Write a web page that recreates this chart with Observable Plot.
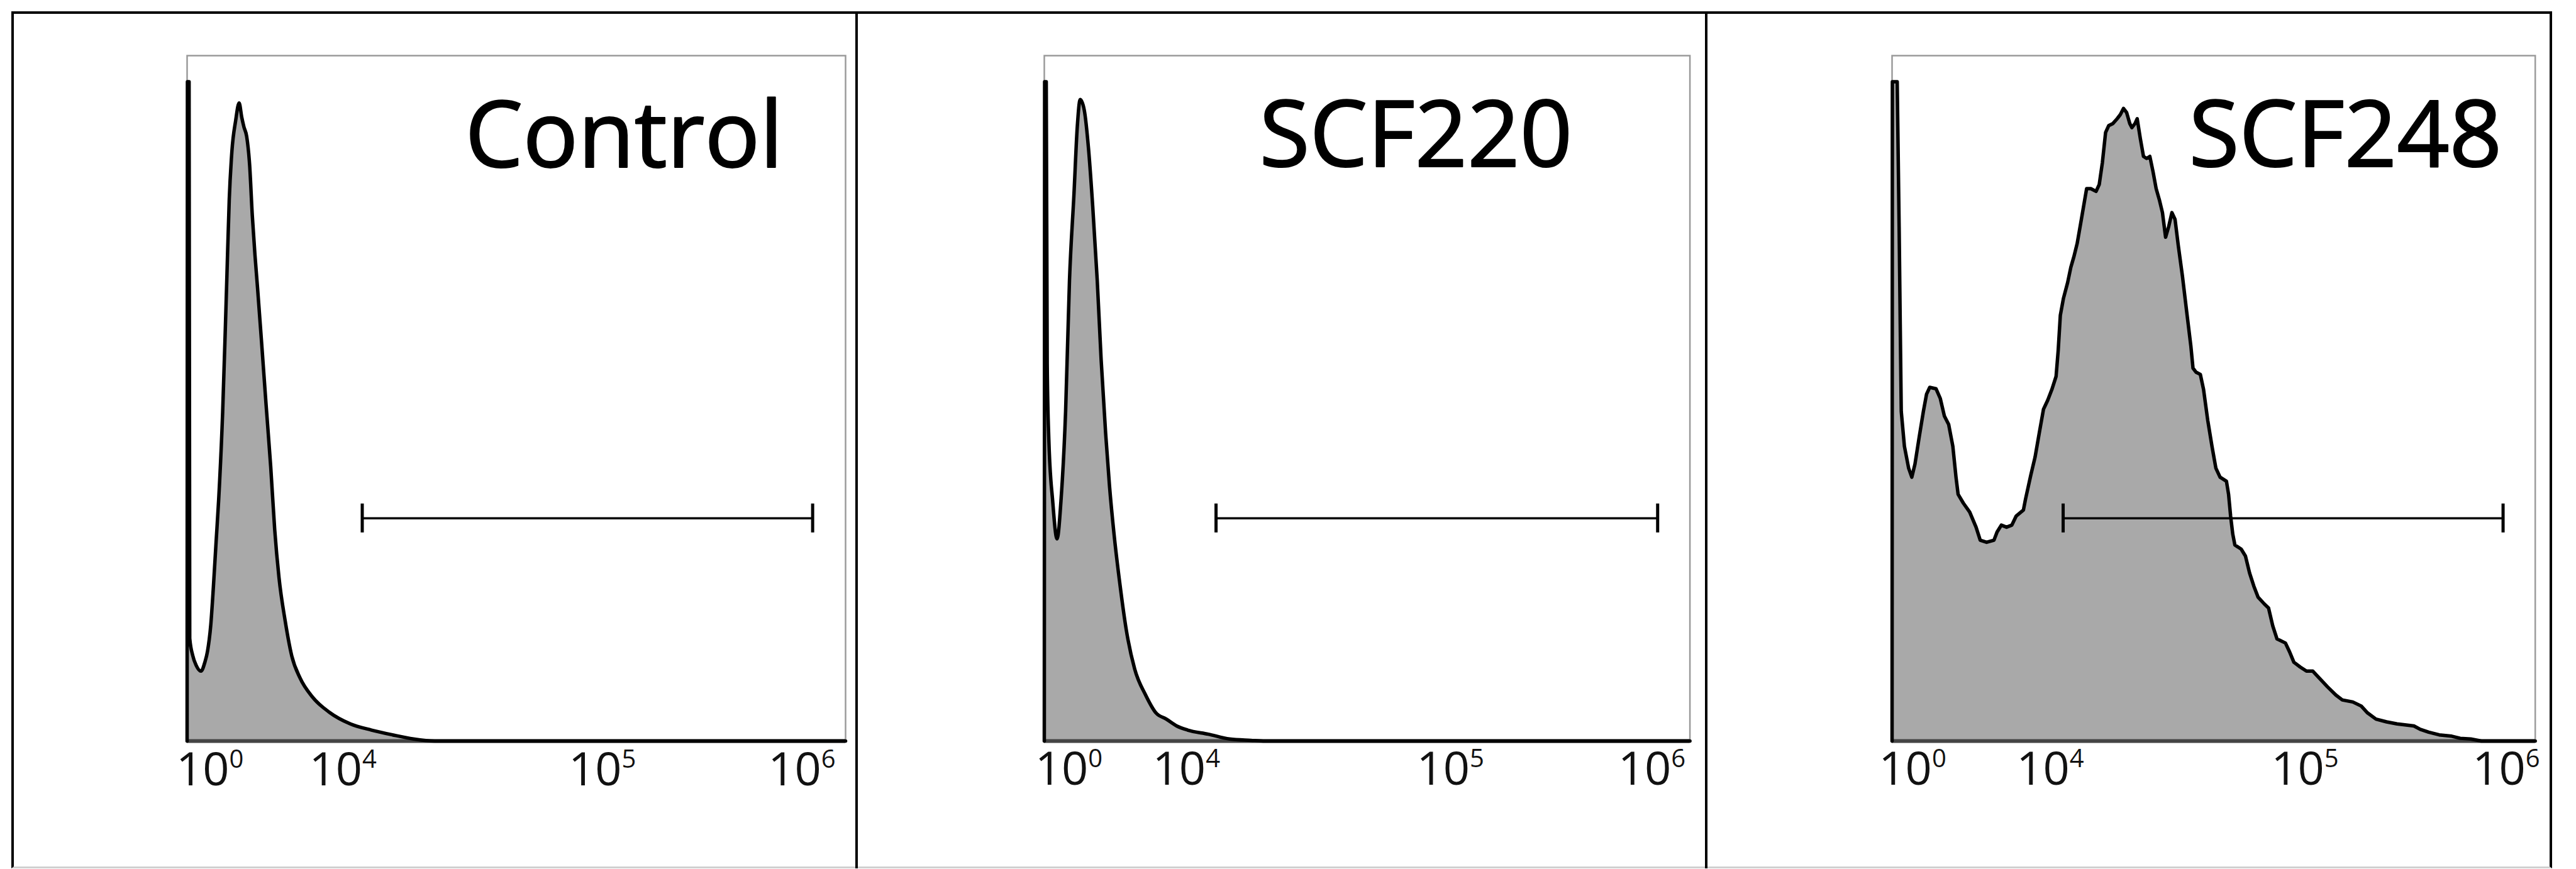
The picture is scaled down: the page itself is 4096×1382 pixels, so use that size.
<!DOCTYPE html>
<html>
<head>
<meta charset="utf-8">
<script src="https://cdn.jsdelivr.net/npm/d3@7"></script>
<script src="https://cdn.jsdelivr.net/npm/@observablehq/plot@0.6"></script>
<style>
  html, body { margin: 0; padding: 0; background: #fff; }
  #root { position: relative; width: 4096px; height: 1382px; overflow: hidden; background: #fff; font-family: "Open Sans", sans-serif; }
  .outer { position: absolute; left: 18px; top: 18px; width: 4040px; height: 1363px; box-sizing: border-box;
           border-left: 4px solid #000; border-top: 4px solid #000; border-right: 4px solid #000; border-bottom: 3px solid #d0d0d0; }
  .divider { position: absolute; top: 18px; width: 4px; height: 1363px; background: #000; }
  .panel { position: absolute; }
</style>
</head>
<body>
<div id="root"></div>
<script>
// ---------------- data (channel 0–1000 across the plot, % of max count) ----------------
const samples = ["Control", "SCF220", "SCF248"];

const controlChannel = [0, 0.5, 3, 4, 8.5, 14, 21, 27, 31, 36, 40, 44, 48, 54, 58, 60.5, 64, 68, 73.7, 79, 83, 86.3, 90.5, 95, 99, 103, 107, 114, 120, 127, 133, 139.5, 149, 159, 171.5, 190.6, 216, 248, 280, 312, 344, 376, 1000];
const controlCount   = [0, 96.2, 96.2, 15, 12.5, 11, 10.2, 11.5, 13.1, 17, 22.6, 29, 35.3, 48, 60, 68, 79, 86, 90.5, 93.1, 91, 89.6, 88.2, 84, 76.7, 71, 66.1, 57, 49, 40, 30.9, 23.9, 17.5, 12.4, 9.2, 6.4, 4.2, 2.5, 1.6, 0.9, 0.3, 0, 0];

const scf220Channel = [0, 0.5, 3, 4.5, 7, 13, 19.7, 26, 33, 39, 46, 51, 55.6, 62, 68.6, 75, 82, 88, 95, 101, 108, 117.5, 127, 140, 157, 173, 189, 205, 222, 254, 287, 320, 342, 1000];
const scf220Count   = [0, 96.2, 96.2, 55, 44, 35, 29.5, 35.3, 48.1, 67.2, 79.9, 89.5, 93.6, 92, 86.3, 78, 67.2, 55.7, 44.9, 37.2, 30.2, 22.6, 16.2, 10.5, 6.7, 4.1, 3.2, 2.2, 1.6, 1.0, 0.3, 0.1, 0, 0];

const scf248Channel = [0, 0.5, 8, 11, 12.7, 14.3, 19.2, 25.8, 30.7, 35.6, 42.1, 48.7, 53.6, 58.5, 68.3, 74.9, 81.4, 88.0, 94.5, 99.4, 102.7, 110.9, 120.7, 130.6, 137.1, 147.0, 158.4, 163.3, 169.9, 178.0, 186.2, 192.8, 204.2, 207.5, 215.7, 222.3, 228.8, 235.4, 241.9, 248.5, 255.0, 258.3, 261.6, 266.5, 273.0, 277.9, 282.8, 287.8, 294.3, 302.5, 309.0, 317.2, 322.1, 327.0, 332.0, 336.9, 343.4, 350.0, 354.9, 359.8, 364.7, 369.6, 372.9, 377.8, 381.1, 386.0, 390.9, 395.8, 400.8, 405.7, 410.6, 415.5, 420.4, 425.3, 430.2, 435.1, 440.0, 445.0, 451.5, 458.0, 464.6, 467.9, 472.8, 479.3, 484.3, 490.8, 497.4, 503.5, 510.0, 519.9, 523.2, 526.4, 529.7, 533.0, 542.8, 549.4, 555.9, 562.5, 569.0, 578.8, 585.4, 591.9, 598.5, 611.6, 618.1, 624.7, 634.5, 644.3, 654.2, 664.0, 677.1, 690.2, 700.0, 716.4, 729.5, 739.3, 752.4, 768.8, 785.2, 811.4, 821.2, 834.3, 850.7, 870.3, 883.4, 899.8, 916.2, 1000];
const scf248Count   = [0, 96.2, 96.2, 75, 60.8, 48.1, 43.0, 39.8, 38.5, 40.4, 44.3, 48.1, 50.6, 51.6, 51.4, 50.0, 47.4, 46.2, 43.0, 38.5, 36.0, 34.7, 33.4, 31.2, 29.3, 29.0, 29.3, 30.5, 31.5, 31.2, 31.5, 32.8, 33.7, 35.3, 38.8, 41.4, 44.9, 48.4, 49.7, 51.3, 53.2, 57.0, 62.1, 64.6, 66.9, 69.1, 70.7, 72.6, 76.1, 80.6, 80.6, 80.2, 81.2, 84.4, 88.8, 89.8, 90.1, 90.8, 91.4, 92.3, 91.7, 90.1, 89.5, 90.1, 90.8, 87.9, 85.3, 85.0, 85.3, 83.1, 80.6, 79.0, 77.1, 73.5, 75.1, 77.1, 76.1, 72.3, 67.8, 62.7, 57.6, 54.4, 53.8, 53.5, 51.3, 46.8, 43.0, 39.8, 38.5, 37.9, 36.0, 32.8, 30.2, 28.6, 28.0, 27.0, 24.5, 22.6, 21.0, 20.0, 19.4, 16.8, 14.9, 14.3, 13.0, 11.5, 10.8, 10.2, 10.2, 9.2, 7.9, 6.7, 6.0, 5.7, 5.1, 4.1, 3.2, 2.8, 2.5, 2.2, 1.7, 1.3, 0.9, 0.7, 0.4, 0.3, 0, 0];

// axis tick labels ("10" with a superscript exponent) and their channel positions per panel
const tickBase = ["10", "10", "10", "10"];
const tickExp  = ["0", "4", "5", "6"];
const controlTickPos = [64, 266, 660, 963];
const scf220TickPos  = [68, 250, 659, 971];
const scf248TickPos  = [62, 276, 672, 985];

// gate marker (channel range and % level)
const gateRange = [266, 950];
const gateLevel = 32.5;

// ---------------- layout (pixels) ----------------
const panels = [
  {title: samples[0], xs: controlChannel, ys: controlCount, ticks: controlTickPos, curve: "monotone-x", boxLeft: 296.5, boxWidth: 1047, titleDx: 442},
  {title: samples[1], xs: scf220Channel,  ys: scf220Count,  ticks: scf220TickPos,  curve: "monotone-x", boxLeft: 1659.7, boxWidth: 1026.6, titleDx: 342},
  {title: samples[2], xs: scf248Channel,  ys: scf248Count,  ticks: scf248TickPos,  curve: "linear",     boxLeft: 3008.4, boxWidth: 1022.7, titleDx: 472}
];
const boxTop = 88, baseline = 1178;
const mL = 30, mR = 20, mT = 20, mB = 120;

const root = document.getElementById("root");
const outer = document.createElement("div");
outer.className = "outer";
root.appendChild(outer);
for (const x of [1360, 2711]) {
  const d = document.createElement("div");
  d.className = "divider";
  d.style.left = x + "px";
  root.appendChild(d);
}

for (const p of panels) {
  const data = p.xs.map((x, i) => ({x, y: p.ys[i]}));
  const tickData = p.ticks.map((t, i) => ({t, base: tickBase[i], exp: tickExp[i]}));
  const chart = Plot.plot({
    width: p.boxWidth + mL + mR,
    height: (baseline - boxTop) + mT + mB,
    marginLeft: mL, marginRight: mR, marginTop: mT, marginBottom: mB,
    x: {domain: [0, 1000], axis: null},
    y: {domain: [0, 100], axis: null},
    style: {background: "transparent", overflow: "visible", fontFamily: "'Open Sans', sans-serif"},
    marks: [
      Plot.areaY(data, {x: "x", y: "y", fill: "#a9a9a9", curve: p.curve}),
      Plot.frame({stroke: "#9a9a9a", strokeWidth: 2.5}),
      Plot.ruleY([0], {stroke: "#444", strokeWidth: 6}),
      Plot.lineY(data, {x: "x", y: "y", stroke: "#000", strokeWidth: 5.5, curve: p.curve, strokeLinejoin: "round"}),
      Plot.ruleY([gateLevel], {x1: gateRange[0], x2: gateRange[1], stroke: "#000", strokeWidth: 3.5}),
      Plot.ruleX(gateRange, {y1: gateLevel, y2: gateLevel, insetTop: -23, insetBottom: -23, stroke: "#000", strokeWidth: 5}),
      Plot.text(tickData, {x: "t", y: 0, text: "base", textAnchor: "end", lineAnchor: "bottom", dy: 70, fontSize: 74, fill: "#111"}),
      Plot.text(tickData, {x: "t", y: 0, text: "exp", textAnchor: "start", lineAnchor: "bottom", dy: 42, fontSize: 40, fill: "#111"}),
      Plot.text([p.title], {frameAnchor: "top-left", text: d => d, textAnchor: "start", lineAnchor: "bottom", dx: p.titleDx, dy: 177, fontSize: 146, fill: "#000", stroke: "#000", strokeWidth: 2.2})
    ]
  });
  const wrap = document.createElement("div");
  wrap.className = "panel";
  wrap.style.left = (p.boxLeft - mL) + "px";
  wrap.style.top = (boxTop - mT) + "px";
  wrap.appendChild(chart);
  root.appendChild(wrap);
}
</script>
</body>
</html>
